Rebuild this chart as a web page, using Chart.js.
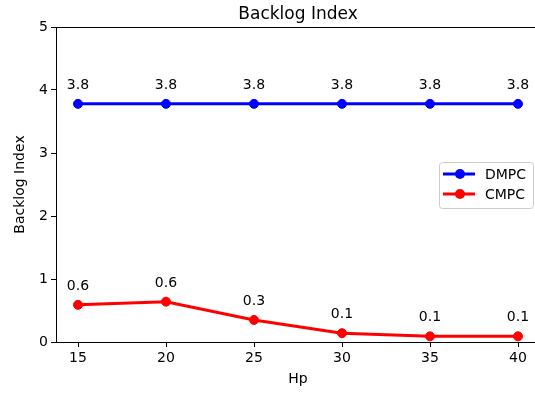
<!DOCTYPE html>
<html>
<head>
<meta charset="utf-8">
<script src="https://cdn.jsdelivr.net/npm/chart.js@4.4.1/dist/chart.umd.min.js"></script>
<style>
  html, body { margin: 0; padding: 0; background: #fff; overflow: hidden; }
  #wrap { width: 540px; height: 394px; }
</style>
</head>
<body>
<div id="wrap"><canvas id="lineChart" width="540" height="394"></canvas></div>
<script>
// Hp values on the x axis and backlog index for each controller
const hp = [15, 20, 25, 30, 35, 40];
const dmpc = [3.78, 3.78, 3.78, 3.78, 3.78, 3.78];
const cmpc = [0.59, 0.64, 0.35, 0.14, 0.09, 0.09];
const yTicks = [0, 1, 2, 3, 4, 5];
const chartTitle = 'Backlog Index';

const FONT = 'DejaVu Sans';
const FS = 14;

// value labels above each point, one decimal
const pointLabels = {
    id: 'pointLabels',
    afterDatasetsDraw(chart) {
        const ctx = chart.ctx;
        ctx.save();
        ctx.font = FS + 'px ' + FONT;
        ctx.fillStyle = '#000';
        ctx.textAlign = 'center';
        ctx.textBaseline = 'alphabetic';
        chart.data.datasets.forEach((ds, i) => {
            chart.getDatasetMeta(i).data.forEach((pt, j) => {
                ctx.fillText(ds.data[j].y.toFixed(1), pt.x, pt.y - 15);
            });
        });
        ctx.restore();
    }
};

// frame around the plot area, title centred over it, and the boxed legend
const frameAndLegend = {
    id: 'frameAndLegend',
    afterDraw(chart) {
        const ctx = chart.ctx;
        const a = chart.chartArea;
        ctx.save();
        ctx.strokeStyle = '#000';
        ctx.lineWidth = 1;
        ctx.strokeRect(a.left + 0.5, a.top + 0.5, a.right - a.left, a.bottom - a.top);

        ctx.fillStyle = '#000';
        ctx.font = '17px ' + FONT;
        ctx.textAlign = 'center';
        ctx.textBaseline = 'alphabetic';
        ctx.fillText(chartTitle, (a.left + a.right) / 2, a.top - 8);

        const bx = 439, by = 162, bw = 94, bh = 46, r = 3;
        ctx.beginPath();
        ctx.roundRect(bx + 0.5, by + 0.5, bw, bh, r);
        ctx.fillStyle = 'rgba(255,255,255,0.8)';
        ctx.fill();
        ctx.strokeStyle = '#cccccc';
        ctx.stroke();

        ctx.font = FS + 'px ' + FONT;
        ctx.textAlign = 'left';
        ctx.textBaseline = 'middle';
        chart.data.datasets.forEach((ds, i) => {
            const y = by + 12 + i * 20;
            ctx.strokeStyle = ds.borderColor;
            ctx.lineWidth = 3;
            ctx.beginPath();
            ctx.moveTo(bx + 4, y);
            ctx.lineTo(bx + 36, y);
            ctx.stroke();
            ctx.fillStyle = ds.borderColor;
            ctx.beginPath();
            ctx.arc(bx + 21, y, 5, 0, Math.PI * 2);
            ctx.fill();
            ctx.fillStyle = '#000';
            ctx.fillText(ds.label, bx + 46, y + 1);
        });
        ctx.restore();
    }
};

const ctx = document.getElementById('lineChart').getContext('2d');
new Chart(ctx, {
    type: 'line',
    data: {
        datasets: [{
            label: 'DMPC',
            data: hp.map((x, i) => ({ x: x, y: dmpc[i] })),
            borderColor: '#0000ff',
            backgroundColor: '#0000ff',
            borderWidth: 3,
            pointRadius: 4.5,
            pointHoverRadius: 4.5,
            pointBorderWidth: 1,
            tension: 0
        }, {
            label: 'CMPC',
            data: hp.map((x, i) => ({ x: x, y: cmpc[i] })),
            borderColor: '#ff0000',
            backgroundColor: '#ff0000',
            borderWidth: 3,
            pointRadius: 4.5,
            pointHoverRadius: 4.5,
            pointBorderWidth: 1,
            tension: 0
        }]
    },
    options: {
        responsive: false,
        animation: false,
        layout: { padding: { top: 27, left: 0, right: 0, bottom: 0 }, autoPadding: false },
        plugins: {
            legend: { display: false },
            tooltip: { enabled: false },
            title: { display: false }
        },
        scales: {
            x: {
                type: 'linear',
                min: 13.75,
                max: 41.25,
                afterFit(scale) {
                    scale.height = 52;
                    scale.paddingLeft = 0;
                    scale.paddingRight = 0;
                },
                grid: { drawOnChartArea: false, drawTicks: true, tickLength: 5, color: '#000' },
                border: { display: true, color: '#000' },
                ticks: {
                    stepSize: 5,
                    includeBounds: false,
                    color: '#000',
                    padding: 3,
                    maxRotation: 0,
                    font: { family: FONT, size: FS }
                },
                title: {
                    display: true,
                    text: 'Hp',
                    color: '#000',
                    font: { family: FONT, size: FS },
                    padding: { top: 0, bottom: 6 }
                }
            },
            y: {
                min: 0,
                max: 5,
                afterFit(scale) {
                    scale.width = 56;
                    scale.paddingTop = 0;
                    scale.paddingBottom = 0;
                },
                afterBuildTicks(scale) { scale.ticks = yTicks.map(v => ({ value: v })); },
                grid: { drawOnChartArea: false, drawTicks: true, tickLength: 5, color: '#000' },
                border: { display: true, color: '#000' },
                ticks: {
                    color: '#000',
                    padding: 3,
                    font: { family: FONT, size: FS }
                },
                title: {
                    display: true,
                    text: 'Backlog Index',
                    color: '#000',
                    font: { family: FONT, size: FS },
                    padding: { top: 12, bottom: 0 }
                }
            }
        }
    },
    plugins: [pointLabels, frameAndLegend]
});
</script>
</body>
</html>
